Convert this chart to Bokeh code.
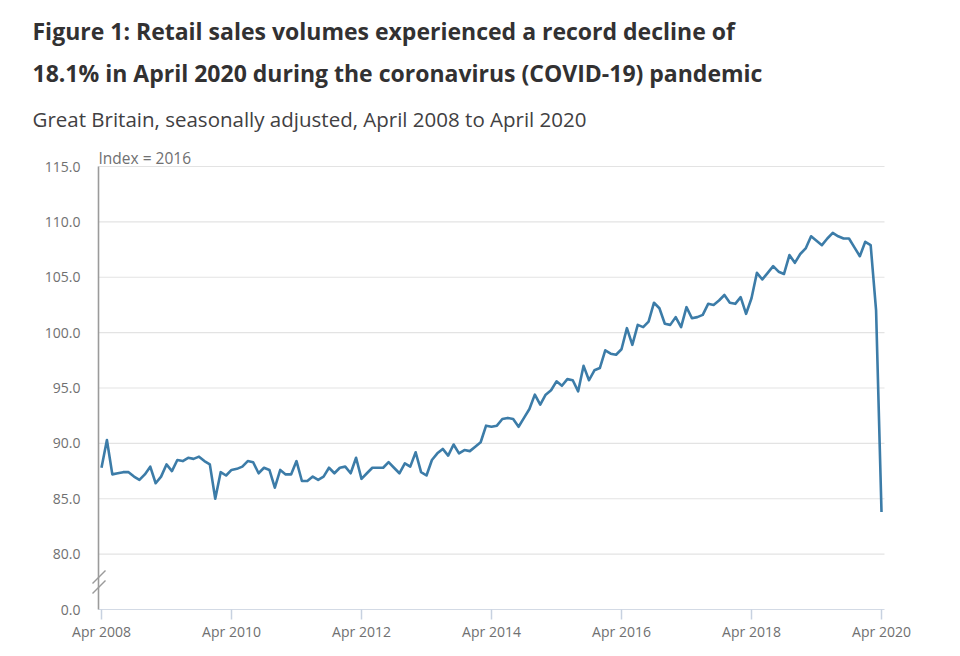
from bokeh.plotting import figure
from bokeh.models import Range1d, Label
from bokeh.embed import file_html
from bokeh.resources import INLINE

# ---------------- data ----------------
title_lines = [
    "Figure 1: Retail sales volumes experienced a record decline of",
    "18.1% in April 2020 during the coronavirus (COVID-19) pandemic",
]
subtitle = "Great Britain, seasonally adjusted, April 2008 to April 2020"
y_unit_label = "Index = 2016"

# Monthly retail sales volume index, Apr 2008 .. Apr 2020
sales_index = [
    87.8, 90.3, 87.2, 87.3, 87.4, 87.4, 87.0, 86.7, 87.2, 87.9, 86.4, 87.0,   # Apr08-Mar09
    88.1, 87.5, 88.5, 88.4, 88.7, 88.6, 88.8, 88.4, 88.1, 85.0, 87.4, 87.1,   # Apr09-Mar10
    87.6, 87.7, 87.9, 88.4, 88.3, 87.3, 87.8, 87.6, 86.0, 87.6, 87.2, 87.2,   # Apr10-Mar11
    88.4, 86.6, 86.6, 87.0, 86.7, 87.0, 87.8, 87.3, 87.8, 87.9, 87.3, 88.7,   # Apr11-Mar12
    86.8, 87.3, 87.8, 87.8, 87.8, 88.3, 87.8, 87.3, 88.2, 87.9, 89.2, 87.4,   # Apr12-Mar13
    87.1, 88.5, 89.1, 89.5, 88.9, 89.9, 89.1, 89.4, 89.3, 89.7, 90.1, 91.6,   # Apr13-Mar14
    91.5, 91.6, 92.2, 92.3, 92.2, 91.5, 92.3, 93.1, 94.4, 93.5, 94.4, 94.8,   # Apr14-Mar15
    95.6, 95.2, 95.8, 95.7, 94.7, 97.0, 95.7, 96.6, 96.8, 98.4, 98.1, 98.0,   # Apr15-Mar16
    98.5, 100.4, 98.9, 100.7, 100.5, 101.0, 102.7, 102.2, 100.8, 100.7, 101.4, 100.5,  # Apr16-Mar17
    102.3, 101.3, 101.4, 101.6, 102.6, 102.5, 102.9, 103.4, 102.7, 102.6, 103.2, 101.7,  # Apr17-Mar18
    103.1, 105.4, 104.8, 105.4, 106.0, 105.5, 105.3, 107.0, 106.3, 107.1, 107.6, 108.7,  # Apr18-Mar19
    108.3, 107.9, 108.5, 109.0, 108.7, 108.5, 108.5, 107.7, 106.9, 108.2, 107.9, 102.0,  # Apr19-Mar20
    83.8,                                                                     # Apr20
]
months = list(range(len(sales_index)))  # months since Apr 2008

x_tick_months = [0, 24, 48, 72, 96, 120, 144]
x_tick_labels = ["Apr 2008", "Apr 2010", "Apr 2012", "Apr 2014",
                 "Apr 2016", "Apr 2018", "Apr 2020"]
y_ticks = [80, 85, 90, 95, 100, 105, 110, 115]
y_tick_labels = ["80.0", "85.0", "90.0", "95.0", "100.0", "105.0", "110.0", "115.0"]
y_break = 75          # axis position of the broken-scale zero
y_break_label = "0.0"

# ---------------- layout constants (pixels) ----------------
W, H = 944, 648
AXIS_Y_PX = 609               # x axis line
AXIS_X_PX = 98                # y-axis line
AXIS_END_PX = 884             # right end of x axis / grid
X_FIRST_PX, X_LAST_PX = 101, 881   # Apr 2008, Apr 2020
Y_TOP_TICK_PX = 166           # position of 115
px_per_month = (X_LAST_PX - X_FIRST_PX) / 144.0
px_per_unit = (AXIS_Y_PX - Y_TOP_TICK_PX) / (y_ticks[-1] - y_break)


def fx(px):
    return (px - X_FIRST_PX) / px_per_month


def fy(py):
    return y_ticks[-1] - (py - Y_TOP_TICK_PX) / px_per_unit


FONT = "Open Sans"
GREY = "#707071"
AXIS_GREY = "#9b9b9b"
XAXIS_COLOR = "#d3dae5"

p = figure(width=W, height=H, output_backend="svg", toolbar_location=None,
           x_range=Range1d(fx(0), fx(W)), y_range=Range1d(fy(H), fy(0)),
           min_border_left=0, min_border_right=0,
           min_border_top=0, min_border_bottom=0,
           background_fill_color="white", border_fill_color="white")
p.outline_line_color = None
p.xaxis.visible = False
p.yaxis.visible = False
p.xgrid.visible = False
p.ygrid.visible = False

x_axis = fx(AXIS_X_PX)
x_axis_end = fx(AXIS_END_PX)

# horizontal grid lines (from the y-axis to the end of the x axis)
p.segment(x0=[x_axis] * len(y_ticks), y0=y_ticks,
          x1=[x_axis_end] * len(y_ticks), y1=y_ticks,
          line_color="#e3e3e3", line_width=1.2)

# x axis: line, ticks, labels
p.segment(x0=[x_axis], y0=[y_break], x1=[x_axis_end], y1=[y_break],
          line_color=XAXIS_COLOR, line_width=1.2)
p.segment(x0=x_tick_months, y0=[y_break] * len(x_tick_months),
          x1=x_tick_months, y1=[fy(AXIS_Y_PX + 10)] * len(x_tick_months),
          line_color="#c7d1e0", line_width=1.5)
p.text(x=x_tick_months, y=[y_break] * len(x_tick_months), text=x_tick_labels,
       y_offset=22, text_align="center", text_baseline="middle",
       text_font={"value": FONT}, text_font_size="14px", text_color=GREY)

# y axis: line, break marks, labels
p.segment(x0=[x_axis], y0=[y_break], x1=[x_axis], y1=[y_ticks[-1]],
          line_color=AXIS_GREY, line_width=1.6)
p.segment(x0=[fx(92), fx(92)], y0=[fy(583), fy(593)],
          x1=[fx(105), fx(105)], y1=[fy(570), fy(580)],
          line_color=AXIS_GREY, line_width=1.4)
p.text(x=[x_axis] * (len(y_ticks) + 1), y=[y_break] + y_ticks,
       text=[y_break_label] + y_tick_labels, x_offset=-18,
       text_align="right", text_baseline="middle",
       text_font={"value": FONT}, text_font_size="14px", text_color=GREY)

# data line
p.line(months, sales_index, line_color="#3c7ca8", line_width=2.6,
       line_join="round")

# texts (y = visual middle of the line)
for text, mid_px in zip(title_lines, [30, 72]):
    p.add_layout(Label(x=fx(32), y=fy(mid_px), text=text, text_font=FONT,
                       text_font_size="23px", text_font_style="bold",
                       text_color="#323132", text_baseline="middle"))
p.add_layout(Label(x=fx(32), y=fy(118), text=subtitle, text_font=FONT,
                   text_font_size="20.5px", text_color="#414042",
                   text_baseline="middle"))
p.add_layout(Label(x=fx(98), y=fy(157), text=y_unit_label, text_font=FONT,
                   text_font_size="15.5px", text_color=GREY,
                   text_baseline="middle"))

open("out.html", "w").write(file_html(p, INLINE))
